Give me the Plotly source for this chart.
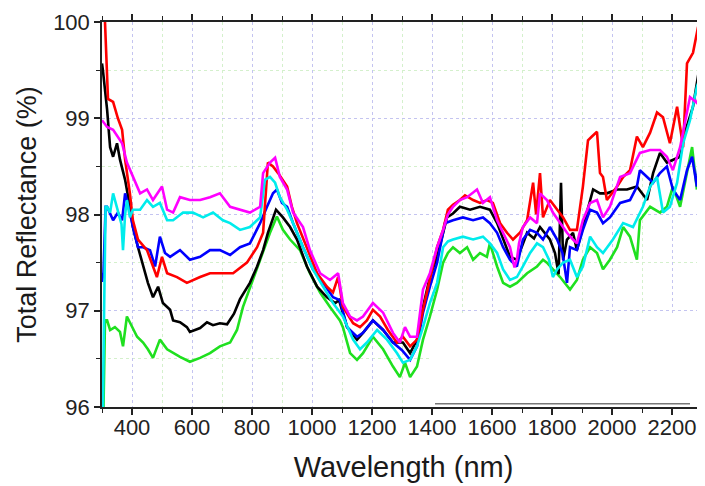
import plotly.graph_objects as go

# ---- data: (wavelength nm, total reflectance %) ----
red = [(300,100.4),(310,100.0),(320,99.2),(337,99.17),(353,99.0),(367,98.88),(377,98.57),(393,98.22),
       (403,97.94),(420,97.74),(450,97.63),(470,97.46),(483,97.35),(500,97.56),(517,97.39),(550,97.35),
       (583,97.29),(627,97.35),(660,97.39),(693,97.39),(737,97.39),(783,97.5),(817,97.66),(837,97.81),
       (853,98.54),(870,98.5),(887,98.43),(917,98.29),(933,98.08),(950,97.91),(983,97.66),(1017,97.39),
       (1050,97.25),(1070,97.19),(1087,97.35),(1103,97.04),(1137,96.87),(1160,96.83),(1183,96.9),
       (1203,97.01),(1227,96.94),(1253,96.8),(1283,96.67),(1303,96.73),(1327,96.63),(1350,96.7),
       (1370,97.01),(1393,97.32),(1417,97.66),(1437,97.84),(1453,98.05),(1470,98.1),(1493,98.15),
       (1510,98.2),(1537,98.15),(1560,98.12),(1583,98.15),(1603,98.12),(1627,97.91),(1650,97.81),
       (1670,97.74),(1693,97.81),(1717,97.94),(1737,98.33),(1747,98.0),(1760,98.43),(1770,97.97),
       (1793,98.15),(1817,98.05),(1837,97.97),(1860,97.84),(1883,97.84),(1903,98.29),(1920,98.77),
       (1933,98.81),(1950,98.86),(1960,98.43),(1970,98.39),(1983,98.15),(2017,98.29),(2037,98.39),
       (2060,98.46),(2083,98.81),(2103,98.7),(2127,98.85),(2150,99.06),(2170,99.01),(2193,98.74),
       (2217,99.12),(2237,98.7),(2250,99.57),(2270,99.68),(2287,99.95),(2300,99.5),(2310,99.6)]

black = [(300,99.57),(303,99.5),(317,99.09),(327,98.7),(337,98.6),(350,98.74),(360,98.57),(377,98.36),
         (393,98.08),(403,97.87),(420,97.66),(437,97.46),(453,97.29),(470,97.14),(487,97.25),(503,97.08),
         (527,97.01),(537,96.9),(560,96.88),(583,96.83),(593,96.78),(627,96.82),(650,96.88),(670,96.85),
         (693,96.87),(717,96.86),(740,96.97),(760,97.12),(793,97.29),(817,97.46),(837,97.63),(853,97.81),
         (870,97.97),(880,98.05),(903,97.97),(927,97.87),(950,97.74),(983,97.46),(1017,97.25),(1050,97.14),
         (1077,97.08),(1090,97.11),(1117,96.83),(1150,96.7),(1170,96.77),(1203,96.9),(1237,96.8),
         (1270,96.67),(1303,96.67),(1327,96.56),(1350,96.7),(1370,97.04),(1393,97.35),(1417,97.56),
         (1450,97.97),(1470,98.01),(1493,98.08),(1527,98.05),(1560,98.08),(1593,98.05),(1617,97.91),
         (1637,97.74),(1660,97.56),(1683,97.53),(1717,97.81),(1740,97.75),(1760,97.87),(1793,97.74),
         (1810,97.6),(1822,97.38),(1830,98.33),(1837,97.53),(1850,97.74),(1870,97.81),(1883,97.63),
         (1903,97.87),(1937,98.26),(1960,98.22),(1983,98.22),(2017,98.26),(2050,98.26),(2083,98.29),
         (2117,98.15),(2137,98.43),(2160,98.64),(2183,98.54),(2203,98.57),(2227,98.6),(2243,98.85),
         (2270,99.12),(2290,99.5),(2300,99.57),(2310,99.55)]

magenta = [(300,98.98),(317,98.91),(337,98.88),(353,98.81),(367,98.74),(383,98.54),(403,98.39),(427,98.22),
           (450,98.26),(470,98.15),(500,98.29),(517,98.05),(537,98.02),(560,98.18),(593,98.15),(627,98.15),
           (660,98.18),(693,98.22),(727,98.08),(760,98.05),(793,98.02),(827,98.08),(837,98.43),(860,98.54),
           (877,98.59),(893,98.39),(917,98.26),(937,98.02),(970,97.87),(993,97.63),(1027,97.39),(1060,97.32),
           (1087,97.39),(1103,97.08),(1127,96.94),(1150,96.9),(1170,96.94),(1203,97.08),(1237,96.98),
           (1270,96.77),(1293,96.67),(1310,96.83),(1327,96.73),(1350,96.73),(1370,97.22),(1393,97.39),
           (1417,97.66),(1437,97.84),(1453,98.0),(1470,98.08),(1493,98.15),(1517,98.18),(1550,98.26),
           (1570,98.12),(1593,98.18),(1617,97.94),(1637,97.81),(1660,97.66),(1675,97.45),(1683,97.53),
           (1690,97.7),(1703,97.87),(1727,97.97),(1750,97.91),(1760,98.22),(1783,98.15),(1803,98.02),
           (1827,97.91),(1850,97.81),(1870,97.74),(1883,97.7),(1903,97.94),(1927,98.12),(1950,98.15),
           (1970,97.97),(1993,98.08),(2027,98.39),(2060,98.43),(2093,98.64),(2127,98.67),(2160,98.67),
           (2183,98.6),(2203,98.46),(2227,98.7),(2250,99.06),(2260,99.22),(2283,99.16),(2300,99.33),
           (2310,99.4)]

cyan = [(300,96.0),(303,96.0),(307,97.0),(312,98.08),(317,98.08),(327,98.02),(337,98.22),(353,98.05),
        (365,97.9),(370,97.63),(377,98.0),(383,98.15),(393,97.97),(403,98.05),(427,98.05),(450,98.15),
        (470,98.08),(493,98.12),(517,97.94),(537,97.94),(570,98.02),(603,98.02),(637,97.97),(670,98.02),
        (703,97.94),(727,97.91),(760,97.84),(793,97.87),(827,97.97),(843,98.36),(860,98.39),(877,98.33),
        (893,98.18),(917,98.05),(937,97.91),(970,97.66),(1003,97.43),(1037,97.25),(1070,97.08),(1103,96.94),
        (1137,96.7),(1160,96.6),(1183,96.67),(1217,96.8),(1250,96.7),(1283,96.56),(1303,96.46),(1327,96.49),
        (1350,96.63),(1370,96.83),(1393,97.08),(1417,97.29),(1437,97.66),(1453,97.72),(1470,97.74),
        (1503,97.77),(1537,97.74),(1570,97.77),(1593,97.7),(1617,97.6),(1637,97.43),(1660,97.32),
        (1683,97.35),(1703,97.46),(1727,97.6),(1750,97.7),(1770,97.66),(1790,97.53),(1803,97.35),
        (1817,97.43),(1837,97.5),(1860,97.53),(1883,97.35),(1903,97.46),(1927,97.77),(1950,97.66),
        (1970,97.6),(2003,97.74),(2037,97.91),(2070,97.87),(2103,98.08),(2127,98.29),(2150,98.39),
        (2170,98.02),(2193,98.08),(2217,98.33),(2237,98.74),(2260,98.98),(2283,99.33),(2300,99.47),
        (2310,99.5)]

blue = [(300,97.3),(305,97.4),(312,98.08),(317,98.08),(337,97.94),(353,98.02),(367,97.94),(377,98.22),
        (393,98.02),(403,97.87),(420,97.66),(437,97.66),(460,97.63),(477,97.46),(493,97.77),(510,97.6),
        (527,97.56),(560,97.63),(593,97.53),(627,97.56),(660,97.63),(693,97.63),(727,97.58),(760,97.66),
        (793,97.7),(827,97.91),(850,98.08),(870,98.22),(883,98.26),(900,98.12),(917,98.08),(937,97.91),
        (970,97.66),(1003,97.43),(1037,97.29),(1070,97.14),(1093,97.11),(1117,96.83),(1150,96.73),
        (1170,96.77),(1203,96.9),(1237,96.8),(1270,96.67),(1300,96.59),(1327,96.49),(1350,96.63),
        (1370,96.98),(1393,97.25),(1417,97.5),(1443,97.91),(1470,97.94),(1503,97.97),(1537,97.94),
        (1570,97.97),(1593,97.91),(1617,97.81),(1637,97.66),(1660,97.53),(1683,97.46),(1703,97.74),
        (1727,97.84),(1750,97.81),(1770,97.74),(1793,97.87),(1817,97.74),(1835,97.6),(1850,97.29),
        (1860,97.66),(1883,97.63),(1903,97.84),(1927,98.05),(1950,98.02),(1970,97.91),(1993,97.97),
        (2027,98.12),(2060,98.15),(2083,98.29),(2093,98.46),(2117,98.39),(2137,98.33),(2160,98.43),
        (2183,98.5),(2203,98.26),(2227,98.15),(2250,98.46),(2267,98.6),(2283,98.29),(2300,98.98),
        (2310,99.2)]

green = [(300,96.0),(305,96.0),(310,96.9),(317,96.9),(327,96.8),(343,96.83),(360,96.78),(370,96.63),
         (383,96.94),(400,96.83),(417,96.73),(437,96.67),(453,96.6),(470,96.51),(493,96.7),(517,96.6),
         (537,96.56),(560,96.52),(593,96.47),(627,96.51),(660,96.56),(693,96.63),(727,96.67),(750,96.8),
         (770,97.04),(803,97.32),(837,97.63),(860,97.81),(883,97.98),(903,97.84),(927,97.74),(960,97.63),
         (993,97.39),(1027,97.19),(1060,97.04),(1093,96.9),(1103,96.83),(1127,96.56),(1150,96.49),
         (1170,96.56),(1203,96.73),(1237,96.6),(1270,96.42),(1293,96.31),(1310,96.46),(1327,96.31),
         (1350,96.42),(1370,96.7),(1393,96.94),(1417,97.22),(1437,97.5),(1453,97.6),(1470,97.66),
         (1493,97.6),(1517,97.66),(1537,97.53),(1560,97.6),(1583,97.56),(1593,97.7),(1617,97.46),
         (1637,97.29),(1660,97.25),(1683,97.29),(1717,97.39),(1750,97.46),(1770,97.53),(1783,97.5),
         (1803,97.43),(1827,97.35),(1860,97.22),(1883,97.32),(1903,97.53),(1927,97.66),(1950,97.6),
         (1970,97.43),(1993,97.53),(2017,97.66),(2037,97.87),(2060,97.77),(2083,97.53),(2093,97.94),
         (2127,98.08),(2160,98.02),(2183,98.08),(2203,98.29),(2227,98.08),(2250,98.46),(2267,98.7),
         (2283,98.26),(2300,98.81),(2310,98.9)]

series = [("green", green, "#1fe01f"), ("black", black, "#000000"), ("blue", blue, "#0000ff"),
          ("red", red, "#ff0000"), ("cyan", cyan, "#00ecec"), ("magenta", magenta, "#ff00ff")]

x_tickvals = [400, 600, 800, 1000, 1200, 1400, 1600, 1800, 2000, 2200]
y_tickvals = [96, 97, 98, 99, 100]

FONT = "Liberation Sans, Arial, sans-serif"

fig = go.Figure()
for name, pts, col in series:
    fig.add_trace(go.Scatter(x=[p[0] for p in pts], y=[p[1] for p in pts], mode="lines",
                             name=name, line=dict(color=col, width=2.6), showlegend=False))

# white patch and grey rule seen in the lower-right corner of the reference
fig.add_shape(type="rect", xref="x", yref="y", x0=1400, x1=2310, y0=96.0, y1=96.97,
              fillcolor="white", line=dict(width=0), layer="between")
fig.add_shape(type="line", xref="x", yref="y", x0=1410, x1=2260, y0=96.035, y1=96.035,
              line=dict(color="#777777", width=1.5))

axis_common = dict(showline=True, linecolor="#222222", linewidth=1.5, mirror="ticks",
                   ticks="outside", ticklen=6, tickwidth=1.5, tickcolor="#222222",
                   showgrid=True, gridcolor="#c4c4f0", griddash="dot", gridwidth=1,
                   zeroline=False, automargin=False,
                   tickfont=dict(family=FONT, size=22, color="#222222"))

fig.update_xaxes(range=[300, 2310], tickvals=x_tickvals, ticklabelstandoff=-6, **axis_common,
                 minor=dict(dtick=100, tick0=300, ticks="outside", ticklen=4, tickwidth=1.2,
                            tickcolor="#222222", showgrid=True, gridcolor="#d4f0cc", griddash="dot"),
                 title=dict(text="Wavelength (nm)", font=dict(family=FONT, size=29, color="#1a1a1a"),
                            standoff=18))
fig.update_yaxes(range=[96, 100], tickvals=y_tickvals, **axis_common,
                 minor=dict(dtick=0.5, tick0=96, ticks="outside", ticklen=4, tickwidth=1.2,
                            tickcolor="#222222", showgrid=True, gridcolor="#d4f0cc", griddash="dot"),
                 title=dict(text="Total Reflectance (%)", font=dict(family=FONT, size=27, color="#1a1a1a"),
                            standoff=9))

# the page body carries an 8px default margin, so the plot margins are offset to compensate
fig.update_layout(width=705, height=486, margin=dict(l=94, r=8, t=14, b=87, autoexpand=False),
                  paper_bgcolor="white", plot_bgcolor="white", showlegend=False)

fig.write_html("out.html")
